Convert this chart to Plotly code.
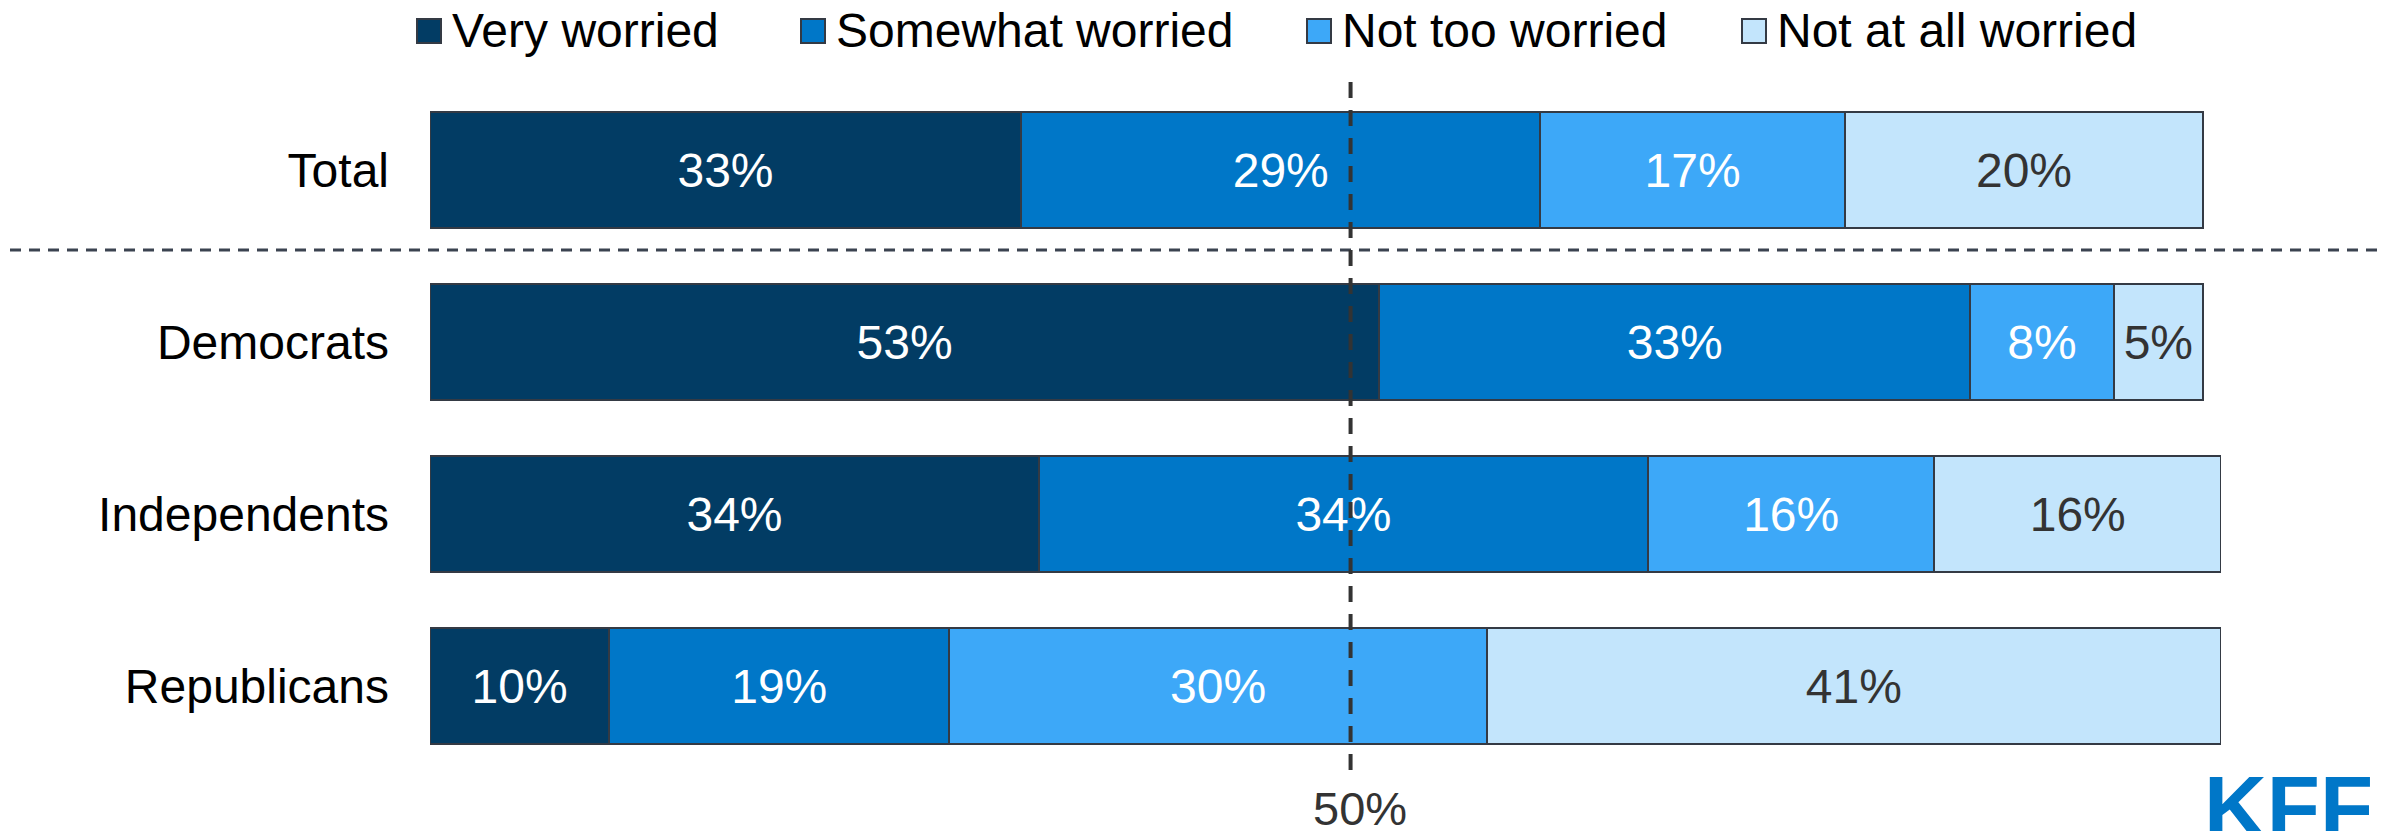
import plotly.graph_objects as go

# ---- data ----
categories = ["Total", "Democrats", "Independents", "Republicans"]
series_names = ["Very worried", "Somewhat worried", "Not too worried", "Not at all worried"]
very_worried = [33, 53, 34, 10]
somewhat_worried = [29, 33, 34, 19]
not_too_worried = [17, 8, 16, 30]
not_at_all_worried = [20, 5, 16, 41]
series_values = [very_worried, somewhat_worried, not_too_worried, not_at_all_worried]
ref_line_value = 51.4      # where the reference's dashed marker sits on the axis
ref_line_label = "50%"

# ---- style ----
colors = ["#023c64", "#0077c8", "#3da8f8", "#c3e5fc"]
text_colors = ["#ffffff", "#ffffff", "#ffffff", "#333333"]
FONT = "Liberation Sans, Arial, sans-serif"
W, H = 2394, 831
ML, MR, MT, MB = 430, 173, 84, 59
PW, PH = W - ML - MR, H - MT - MB


def px_x(px):
    return (px - ML) / PW


def px_y(py):
    return (H - MB - py) / PH


fig = go.Figure()
for name, vals, col, tcol in zip(series_names, series_values, colors, text_colors):
    fig.add_trace(go.Bar(
        y=categories, x=vals, name=name, orientation="h",
        marker=dict(color=col, line=dict(color="#343a44", width=2)),
        text=[f"{v}%" for v in vals], textposition="inside",
        insidetextanchor="middle", textangle=0, constraintext="none",
        textfont=dict(family=FONT, size=48, color=tcol),
        showlegend=False, hoverinfo="skip",
    ))

shapes = []
annotations = []

# manual legend (text start positions in px)
legend_text_px = [450, 834, 1340, 1775]
for name, col, tx in zip(series_names, colors, legend_text_px):
    lx = tx - 33
    shapes.append(dict(type="rect", xref="paper", yref="paper",
                       x0=px_x(lx), x1=px_x(lx + 24), y0=px_y(43), y1=px_y(19),
                       fillcolor=col, line=dict(color="#343a44", width=2)))
    annotations.append(dict(xref="paper", yref="paper", x=px_x(tx), y=px_y(31),
                            xanchor="left", yanchor="middle", showarrow=False,
                            text=name, font=dict(family=FONT, size=48, color="#000000")))

# separator between Total and groups
shapes.append(dict(type="line", xref="paper", yref="paper",
                   x0=px_x(10), x1=px_x(2378), y0=px_y(250), y1=px_y(250),
                   line=dict(color="#3b4350", width=3, dash="11px,8px")))

# vertical reference line
shapes.append(dict(type="line", xref="x", yref="paper", layer="above",
                   x0=ref_line_value, x1=ref_line_value, y0=px_y(770), y1=px_y(78),
                   line=dict(color="#333333", width=4, dash="16px,12px")))
annotations.append(dict(xref="x", yref="paper", x=ref_line_value + 0.5, y=px_y(808),
                        xanchor="center", yanchor="middle", showarrow=False,
                        text=ref_line_label, font=dict(family=FONT, size=47, color="#333333")))

# KFF logo text
annotations.append(dict(xref="paper", yref="paper", x=px_x(2288), y=px_y(806),
                        xanchor="center", yanchor="middle", showarrow=False,
                        text="<b>KFF</b>", font=dict(family=FONT, size=87, color="#0077c8")))

fig.update_layout(
    width=W, height=H, autosize=False,
    margin=dict(l=ML, r=MR, t=MT, b=MB, pad=0),
    barmode="stack", bargap=0.326,
    plot_bgcolor="white", paper_bgcolor="white",
    font=dict(family=FONT, size=48, color="#000000"),
    xaxis=dict(range=[0, 100], visible=False, fixedrange=True),
    yaxis=dict(categoryorder="array", categoryarray=categories, autorange="reversed",
               showgrid=False, zeroline=False, showline=False, ticks="",
               ticklabelstandoff=40,
               tickfont=dict(family=FONT, size=48, color="#000000")),
    shapes=shapes, annotations=annotations,
)

fig.write_html("out.html", config={"displayModeBar": False},
               post_script="document.body.style.margin='0';document.body.style.overflow='hidden';")
